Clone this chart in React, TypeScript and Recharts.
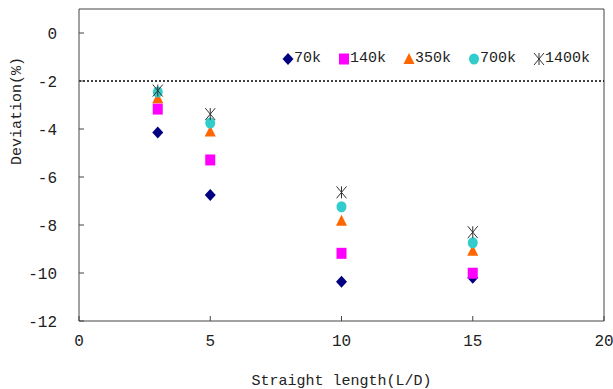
import {
  ScatterChart,
  Scatter,
  XAxis,
  YAxis,
  ReferenceLine,
  Legend,
} from "recharts";

const lengths = [3, 5, 10, 15];
const dev70k = [-4.15, -6.75, -10.36, -10.2];
const dev140k = [-3.17, -5.29, -9.18, -10.01];
const dev350k = [-2.72, -4.1, -7.82, -9.07];
const dev700k = [-2.46, -3.75, -7.24, -8.74];
const dev1400k = [-2.4, -3.38, -6.64, -8.3];
const xTicks = [0, 5, 10, 15, 20];
const yTicks = [0, -2, -4, -6, -8, -10, -12];

const toPoints = (ys: number[]) => lengths.map((x, i) => ({ x, y: ys[i] }));

const AXIS = "#444";
const FONT = "'Liberation Mono', 'DejaVu Sans Mono', monospace";

const Diamond = ({ cx, cy }: any) => (
  <polygon
    points={`${cx},${cy - 6} ${cx + 5.5},${cy} ${cx},${cy + 6} ${cx - 5.5},${cy}`}
    fill="#000080"
  />
);
const Square = ({ cx, cy }: any) => (
  <rect x={cx - 5} y={cy - 5.5} width={10} height={11} fill="#FF00FF" />
);
const Triangle = ({ cx, cy }: any) => (
  <polygon
    points={`${cx},${cy - 6} ${cx + 5.5},${cy + 5} ${cx - 5.5},${cy + 5}`}
    fill="#FF6600"
  />
);
const Circle = ({ cx, cy }: any) => (
  <ellipse cx={cx} cy={cy} rx={5} ry={5.5} fill="#33CCCC" />
);
const Star = ({ cx, cy }: any) => (
  <g stroke="#333" strokeWidth={1}>
    <line x1={cx - 5} y1={cy - 6} x2={cx + 5} y2={cy + 6} />
    <line x1={cx + 5} y1={cy - 6} x2={cx - 5} y2={cy + 6} />
    <line x1={cx} y1={cy - 6} x2={cx} y2={cy + 6} />
  </g>
);

const series = [
  { name: "70k", data: dev70k, shape: Diamond },
  { name: "140k", data: dev140k, shape: Square },
  { name: "350k", data: dev350k, shape: Triangle },
  { name: "700k", data: dev700k, shape: Circle },
  { name: "1400k", data: dev1400k, shape: Star },
];

const renderLegend = () => (
  <div style={{ display: "flex", fontFamily: FONT, fontSize: 15, color: "#222" }}>
    {series.map((s) => {
      const Shape = s.shape;
      return (
        <div key={s.name} style={{ display: "flex", alignItems: "center", marginRight: 17 }}>
          <svg width={12} height={14}>
            <Shape cx={6} cy={7} />
          </svg>
          <span>{s.name}</span>
        </div>
      );
    })}
  </div>
);

export default function App() {
  return (
    <div style={{ position: "fixed", left: 0, top: 0, background: "#fff" }}>
      <ScatterChart
        width={613}
        height={389}
        margin={{ top: 9, right: 9, bottom: 0, left: 0 }}
      >
        <XAxis
          type="number"
          dataKey="x"
          domain={[0, 20]}
          ticks={xTicks}
          stroke={AXIS}
          tickSize={-5}
          tickMargin={19}
          height={68}
          tick={{ fill: "#222", fontSize: 16, fontFamily: FONT }}
          label={{
            value: "Straight length(L/D)",
            position: "insideBottom",
            offset: 4,
            fill: "#222",
            fontSize: 15,
            fontFamily: FONT,
          }}
        />
        <YAxis
          type="number"
          dataKey="y"
          domain={[-12, 1]}
          ticks={yTicks}
          stroke={AXIS}
          tickSize={-5}
          tickMargin={27}
          width={79}
          tick={{ fill: "#222", fontSize: 16, fontFamily: FONT }}
          label={{
            value: "Deviation(%)",
            angle: -90,
            position: "insideLeft",
            offset: 16,
            fill: "#222",
            fontSize: 15,
            fontFamily: FONT,
          }}
        />
        <ReferenceLine y={1} stroke={AXIS} />
        <ReferenceLine x={20} stroke={AXIS} />
        <ReferenceLine y={-2} stroke="#000" strokeWidth={1.5} strokeDasharray="2 2" />
        <Legend
          content={renderLegend}
          layout="horizontal"
          verticalAlign="middle"
          wrapperStyle={{ top: 50, left: 282, width: "auto" }}
        />
        {series.map((s) => (
          <Scatter
            key={s.name}
            name={s.name}
            data={toPoints(s.data)}
            shape={s.shape}
            isAnimationActive={false}
          />
        ))}
      </ScatterChart>
    </div>
  );
}
